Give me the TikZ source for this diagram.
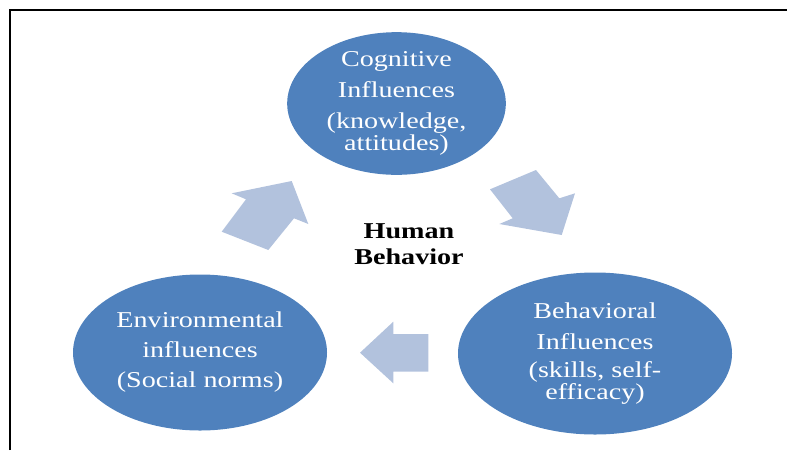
\documentclass[tikz,border=0pt]{standalone}
\usepackage{fontspec}
\setmainfont{Liberation Serif}[FakeStretch=1.24]
\usepackage{tikz}

\definecolor{blobblue}{RGB}{79,129,189}
\definecolor{arrowblue}{RGB}{178,194,221}

\tikzset{
  blob/.style={ellipse, fill=blobblue, inner sep=0pt},
  blobtext/.style={text=white, align=center, inner sep=0pt,
    font=\fontsize{17}{16.5}\selectfont},
  flowarrow/.style={fill=arrowblue},
}

\begin{document}
\begin{tikzpicture}[x=0.75pt,y=0.75pt,yscale=-1,xscale=1]
\usetikzlibrary{shapes.geometric}
\useasboundingbox (0,0) rectangle (787,450);

%frame
\draw[line width=1.5pt] (10,450) -- (10,9.5) -- (787,9.5);

%Ellipses
\node[blob, minimum width=164pt, minimum height=107pt] (cog) at (396.5,103.5) {};
\node[blob, minimum width=190.5pt, minimum height=117pt] (env) at (200,352.5) {};
\node[blob, minimum width=205.5pt, minimum height=121.5pt] (beh) at (595,353.5) {};

% Text Node
\node[blobtext] (cogtext) at (cog.center) {Cognitive\\[7pt]Influences\\[7pt](knowledge,\\attitudes)};
% Text Node
\node[blobtext] (envtext) at (env.center) {Environmental\\[6pt]influences\\[6pt](Social norms)};
% Text Node
\node[blobtext] (behtext) at (beh.center) {Behavioral\\[7pt]Influences\\[4pt](skills, self-\\efficacy)};
% Text Node
\node[align=center, inner sep=0pt, font=\fontsize{17}{19.5}\selectfont\bfseries] (center) at (409,244) {Human\\Behavior};

%Block arrows
\fill[flowarrow] (231.7,193.3) -- (291.7,181) -- (308.3,224) -- (294,218.3) -- (268.3,250) -- (221.7,231.7) -- (246,199.3) -- cycle;
\fill[flowarrow] (490,189.3) -- (536,170) -- (559.3,198.3) -- (575,193.3) -- (561.7,235) -- (499.3,224) -- (512.7,218.3) -- cycle;
\fill[flowarrow] (360,352.7) -- (393.3,321.7) -- (393.3,334) -- (428.3,334) -- (428.3,371.7) -- (393.3,371.7) -- (393.3,383.3) -- cycle;

\end{tikzpicture}
\end{document}
